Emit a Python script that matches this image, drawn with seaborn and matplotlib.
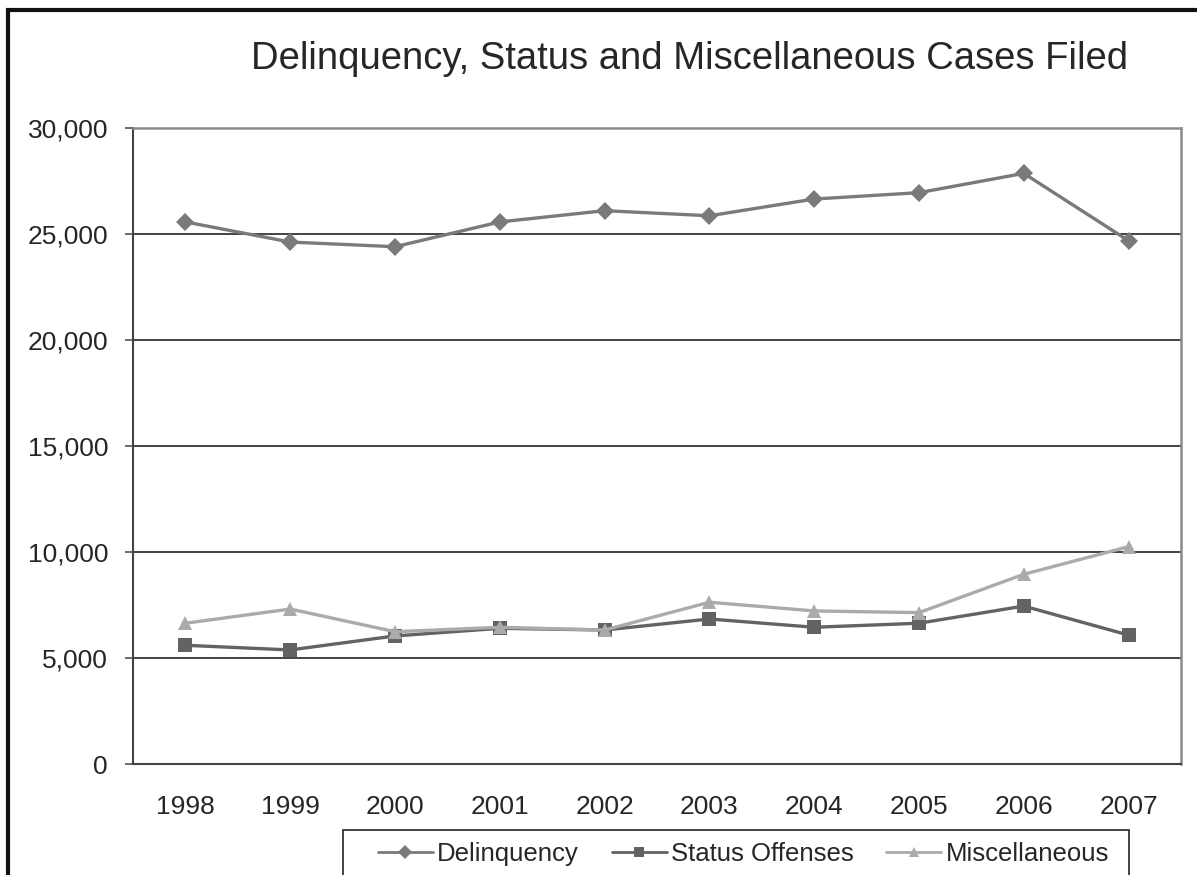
import pandas as pd
import numpy as np
import matplotlib.pyplot as plt
import matplotlib.ticker as mticker
from matplotlib.patches import Rectangle
import seaborn as sns

sns.set_style('white')
plt.rcParams['font.family'] = ['Liberation Sans', 'DejaVu Sans']

# values
years = [1998, 1999, 2000, 2001, 2002, 2003, 2004, 2005, 2006, 2007]
delinquency = [25570, 24620, 24400, 25570, 26100, 25860, 26650, 26950, 27860, 24680]
status_offenses = [5600, 5380, 6040, 6400, 6320, 6840, 6450, 6640, 7450, 6080]
miscellaneous = [6640, 7310, 6240, 6450, 6320, 7630, 7220, 7140, 8950, 10250]
series_names = ['Delinquency', 'Status Offenses', 'Miscellaneous']
y_ticks = [0, 5000, 10000, 15000, 20000, 25000, 30000]

df = pd.DataFrame({
    'Year': years * 3,
    'Cases': delinquency + status_offenses + miscellaneous,
    'Series': np.repeat(series_names, len(years)),
})

palette = {'Delinquency': '#7a7a7a', 'Status Offenses': '#636363', 'Miscellaneous': '#ababab'}
markers = {'Delinquency': 'D', 'Status Offenses': 's', 'Miscellaneous': '^'}
msize = {'Delinquency': 9, 'Status Offenses': 10, 'Miscellaneous': 10}

W, H = 1197, 875
fig = plt.figure(figsize=(W / 100, H / 100), dpi=100)
ax = fig.add_axes([133 / W, 1 - 764 / H, (1181 - 133) / W, (764 - 128) / H])

for name in series_names:
    sub = df[df['Series'] == name]
    sns.lineplot(data=sub, x='Year', y='Cases', color=palette[name], marker=markers[name],
                 markersize=msize[name], markeredgewidth=0, linewidth=2.4, label=name, ax=ax,
                 legend=False, zorder=3)

ax.set_xlim(years[0] - 0.5, years[-1] + 0.5)
ax.set_ylim(0, 30000)
ax.set_xlabel('')
ax.set_ylabel('')

ax.set_xticks(years)
ax.set_xticklabels([str(y) for y in years])
ax.set_xticks(np.arange(years[0] - 0.5, years[-1] + 1.0, 1.0), minor=True)
ax.tick_params(axis='x', which='major', length=0, pad=22, labelsize=19)
ax.tick_params(axis='x', which='minor', length=6, width=1.1, color='#444444', direction='out')
ax.set_yticks(y_ticks)
ax.yaxis.set_major_formatter(mticker.FuncFormatter(lambda v, p: f'{int(v):,}'))
ax.tick_params(axis='y', length=6, width=1.1, color='#444444', direction='out', pad=12, labelsize=19)
ax.tick_params(axis='both', left=True, bottom=True)

for y in y_ticks[1:-1]:
    ax.axhline(y, color='#111111', linewidth=1.1, zorder=1)

ax.spines['left'].set_color('#444444')
ax.spines['left'].set_linewidth(1.5)
ax.spines['bottom'].set_color('#444444')
ax.spines['bottom'].set_linewidth(1.5)
ax.spines['top'].set_color('#8a8a8a')
ax.spines['top'].set_linewidth(1.8)
ax.spines['right'].set_color('#8a8a8a')
ax.spines['right'].set_linewidth(1.8)

fig.text(690 / W, 1 - 69 / H, 'Delinquency, Status and Miscellaneous Cases Filed',
         ha='center', va='baseline', fontsize=27.5)

# legend box (cut off by the bottom edge, as in the original)
fig.add_artist(Rectangle((343 / W, -0.05), (1129 - 343) / W, 1 - 830 / H + 0.05,
                         transform=fig.transFigure, fill=False, edgecolor='#222222', linewidth=1.2))
handles, labels = ax.get_legend_handles_labels()
leg = fig.legend(handles, labels, loc='upper left', ncol=3, bbox_to_anchor=(378 / W, 1 - 842 / H),
                 frameon=False, fontsize=18.5, handlelength=2.14, handletextpad=0.16,
                 borderpad=0, borderaxespad=0, columnspacing=1.28)
for line in leg.get_lines():
    line.set_markersize(7)
    line.set_linewidth(2.0)

# outer chart border (left and top edges visible)
fig.add_artist(Rectangle((8 / W, -0.1), 1.2, 1 - 10 / H + 0.1, transform=fig.transFigure,
                         fill=False, edgecolor='#111111', linewidth=3))

fig.savefig('out.png', dpi=100)
plt.close(fig)
